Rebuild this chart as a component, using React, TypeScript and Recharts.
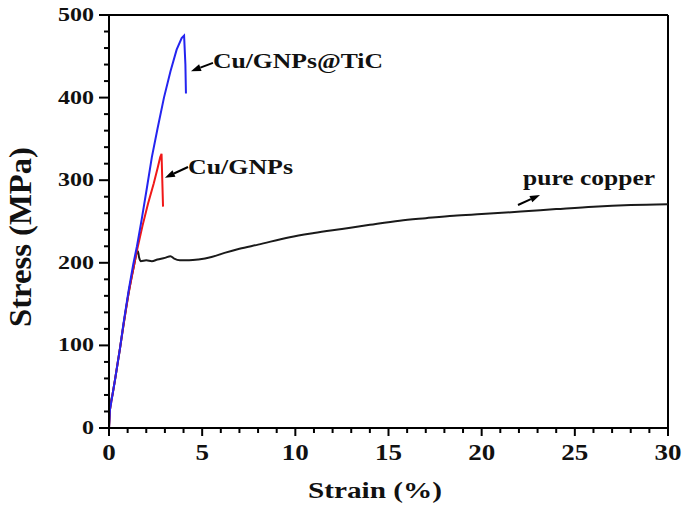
import { LineChart, Line, XAxis, YAxis, ReferenceLine, ReferenceDot } from 'recharts'

// strain (%) vs stress (MPa)
const tiC = [
  { x: 0, y: 0 }, { x: 0.05, y: 22 }, { x: 0.2, y: 42 }, { x: 0.32, y: 58 }, { x: 0.6, y: 98 },
  { x: 0.78, y: 127 }, { x: 1.05, y: 166 }, { x: 1.3, y: 198 }, { x: 1.5, y: 220 }, { x: 1.75, y: 252 },
  { x: 2.0, y: 286 }, { x: 2.3, y: 328 }, { x: 2.6, y: 362 }, { x: 2.95, y: 400 }, { x: 3.3, y: 432 },
  { x: 3.63, y: 458 }, { x: 3.9, y: 472 }, { x: 4.03, y: 475 }, { x: 4.1, y: 440 }, { x: 4.13, y: 405 },
]
const gnps = [
  { x: 0, y: 0 }, { x: 0.05, y: 22 }, { x: 0.2, y: 42 }, { x: 0.32, y: 58 }, { x: 0.6, y: 98 },
  { x: 0.8, y: 128 }, { x: 1.05, y: 163 }, { x: 1.3, y: 192 }, { x: 1.5, y: 215 }, { x: 1.8, y: 245 },
  { x: 2.1, y: 272 }, { x: 2.4, y: 296 }, { x: 2.6, y: 314 }, { x: 2.75, y: 328 }, { x: 2.82, y: 332 },
  { x: 2.86, y: 300 }, { x: 2.9, y: 268 },
]
const copper = [
  { x: 0, y: 0 }, { x: 0.05, y: 22 }, { x: 0.2, y: 42 }, { x: 0.32, y: 58 }, { x: 0.6, y: 98 },
  { x: 0.8, y: 128 }, { x: 1.05, y: 163 }, { x: 1.3, y: 192 }, { x: 1.55, y: 214 }, { x: 1.62, y: 206 },
  { x: 1.7, y: 202 }, { x: 2.0, y: 203 }, { x: 2.3, y: 202 }, { x: 2.6, y: 204 }, { x: 3.0, y: 206 },
  { x: 3.3, y: 208 }, { x: 3.5, y: 205 }, { x: 3.8, y: 203 }, { x: 4.3, y: 203 }, { x: 4.8, y: 204 },
  { x: 5.5, y: 207 }, { x: 6.2, y: 212 }, { x: 7, y: 217 }, { x: 8, y: 222 }, { x: 9.7, y: 231 },
  { x: 11, y: 236 }, { x: 12.5, y: 241 }, { x: 14, y: 246 }, { x: 15.6, y: 251 }, { x: 17, y: 254 },
  { x: 18.5, y: 257 }, { x: 20, y: 259 }, { x: 22.1, y: 262 }, { x: 24, y: 265 }, { x: 26, y: 268 },
  { x: 28, y: 270 }, { x: 30, y: 271 },
]

const xTicks = [0, 1, 2, 3, 4, 5, 6, 7, 8, 9, 10, 11, 12, 13, 14, 15, 16, 17, 18, 19, 20,
  21, 22, 23, 24, 25, 26, 27, 28, 29, 30]
const xLabeled = [0, 5, 10, 15, 20, 25, 30]
const yTicks = [0, 20, 40, 60, 80, 100, 120, 140, 160, 180, 200, 220, 240, 260, 280, 300,
  320, 340, 360, 380, 400, 420, 440, 460, 480, 500]
const yLabeled = [0, 100, 200, 300, 400, 500]

const labels = [
  { text: 'Cu/GNPs@TiC', x: 5.58, y: 436, len: 170 },
  { text: 'Cu/GNPs', x: 4.24, y: 308, len: 105 },
  { text: 'pure copper', x: 22.22, y: 294, len: 132 },
]
const arrows = [
  { from: { x: 5.58, y: 442 }, to: { x: 4.4, y: 432 } },
  { from: { x: 4.24, y: 316 }, to: { x: 3.0, y: 303 } },
  { from: { x: 21.95, y: 270 }, to: { x: 23.13, y: 282 } },
]

const FONT = 'Liberation Serif'

const XTick = ({ x, y, payload }: any) => {
  const major = xLabeled.includes(payload.value)
  return (
    <g>
      <line x1={x} y1={y} x2={x} y2={y + (major ? 8 : 5)} stroke="#000" strokeWidth={2} />
      {major && (
        <text x={x} y={y + 32} textAnchor="middle" style={{ fontFamily: FONT }} fontWeight="bold" fontSize={24}
          textLength={13.5 * String(payload.value).length} lengthAdjust="spacingAndGlyphs" fill="#111">
          {payload.value}
        </text>
      )}
    </g>
  )
}

const YTick = ({ x, y, payload }: any) => {
  const major = yLabeled.includes(payload.value)
  return (
    <g>
      <line x1={x} y1={y} x2={x - (major ? 10 : 5)} y2={y} stroke="#000" strokeWidth={2} />
      {major && (
        <text x={x - 15} y={y + 6} textAnchor="end" style={{ fontFamily: FONT }} fontWeight="bold" fontSize={18}
          textLength={12 * String(payload.value).length} lengthAdjust="spacingAndGlyphs" fill="#111">
          {payload.value}
        </text>
      )}
    </g>
  )
}

const Arrow = ({ x1, y1, x2, y2 }: any) => {
  const a = Math.atan2(y2 - y1, x2 - x1)
  const L = 10, W = 3.5
  const bx = x2 - L * Math.cos(a), by = y2 - L * Math.sin(a)
  const px = -Math.sin(a) * W, py = Math.cos(a) * W
  return (
    <g>
      <line x1={x1} y1={y1} x2={bx} y2={by} stroke="#000" strokeWidth={2} />
      <polygon points={`${x2},${y2} ${bx + px},${by + py} ${bx - px},${by - py}`} fill="#000" />
    </g>
  )
}

export default function App() {
  return (
    <div style={{ position: 'absolute', left: 0, top: 0, background: '#fff' }}>
      <LineChart width={685} height={515} margin={{ top: 15, right: 17, left: 0, bottom: 0 }}>
        <XAxis type="number" dataKey="x" domain={[0, 30]} ticks={xTicks} interval={0}
          tickSize={0} tickMargin={0} tick={<XTick />} height={87}
          axisLine={{ stroke: '#000', strokeWidth: 2 }} tickLine={false}
          label={{
            content: () => (
              <text x={375} y={498} textAnchor="middle" style={{ fontFamily: FONT }} fontWeight="bold" fontSize={23}
                textLength={134} lengthAdjust="spacingAndGlyphs" fill="#111">Strain (%)</text>
            ),
          }} />
        <YAxis type="number" domain={[0, 500]} ticks={yTicks} interval={0}
          tickSize={0} tickMargin={0} tick={<YTick />} width={109}
          axisLine={{ stroke: '#000', strokeWidth: 2 }} tickLine={false}
          label={{
            content: () => (
              <text x={31} y={237} transform="rotate(-90 31 237)" textAnchor="middle" style={{ fontFamily: FONT }}
                fontWeight="bold" fontSize={31} textLength={180} lengthAdjust="spacingAndGlyphs" fill="#111">
                Stress (MPa)
              </text>
            ),
          }} />
        <ReferenceLine y={500} stroke="#000" strokeWidth={2} />
        <ReferenceLine x={30} stroke="#000" strokeWidth={2} />
        <Line data={copper} dataKey="y" type="monotone" stroke="#1a1a1a" strokeWidth={2} dot={false} isAnimationActive={false} />
        <Line data={gnps} dataKey="y" type="linear" stroke="#f01818" strokeWidth={2} dot={false} isAnimationActive={false} />
        <Line data={tiC} dataKey="y" type="linear" stroke="#2424f0" strokeWidth={2} dot={false} isAnimationActive={false} />
        {arrows.map((a, i) => (
          <ReferenceLine key={'a' + i} segment={[a.from, a.to]} stroke="#000" shape={<Arrow />} />
        ))}
        {labels.map(l => (
          <ReferenceDot key={l.text} x={l.x} y={l.y} r={0}
            shape={({ cx, cy }: any) => (
              <text x={cx} y={cy} style={{ fontFamily: FONT }} fontWeight="bold" fontSize={20}
                textLength={l.len} lengthAdjust="spacingAndGlyphs" fill="#111">{l.text}</text>
            )} />
        ))}
      </LineChart>
    </div>
  )
}
